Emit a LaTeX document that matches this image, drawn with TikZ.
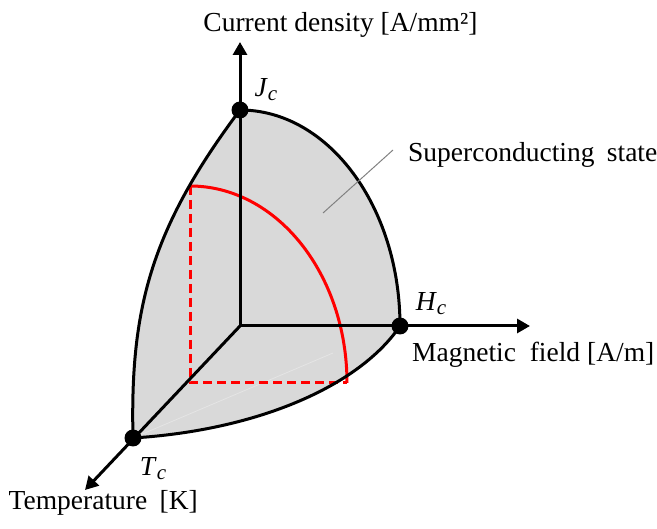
\documentclass[tikz,border=0pt]{standalone}
\usepackage{fontspec}
\setmainfont{Liberation Serif}
\usetikzlibrary{arrows.meta}
\newcommand\critlab[2]{\textit{#1}\raisebox{-4pt}{\fontsize{21}{24}\selectfont\textit{#2}}}
\begin{document}
\begin{tikzpicture}[x=1pt,y=-1pt,
  axisarrow/.style={line width=3pt, -{Triangle[length=13pt,width=14pt]}},
  edgeline/.style={line width=3pt},
  dotnode/.style={circle, fill=black, inner sep=0pt, minimum size=17pt},
  lbl/.style={font=\fontsize{27.5}{32}\selectfont, inner sep=0pt},
  redline/.style={red, line width=3pt},
  leader/.style={gray, line width=1pt}]
\useasboundingbox (0,0) rectangle (657,529);
% key points
\coordinate (O) at (240,326);
\coordinate (Jp) at (240,110);
\coordinate (Hp) at (400,326);
\coordinate (Tp) at (133,438);
\coordinate (topTip) at (240,42);
\coordinate (rightTip) at (530,326);
\coordinate (diagTip) at (85,490);
\coordinate (rTop) at (190,186);
\coordinate (rCorner) at (190,383);
\coordinate (rRight) at (347,383);
\coordinate (leadA) at (323,213);
\coordinate (leadB) at (393,150);
\coordinate (faintEnd) at (333,353);
% region
\fill[black!15] (Jp) arc[start angle=90, end angle=0, x radius=160, y radius=-216]
  .. controls (360,385) and (260,430) .. (Tp)
  .. controls (130,310) and (150,230) .. (Jp) -- cycle;
\draw[white!80!gray, line width=0.8pt] (Tp) -- (faintEnd);
% red curve
\draw[redline] (rTop) arc[start angle=90, end angle=0, x radius=157, y radius=-197];
\draw[redline, dash pattern=on 9pt off 5pt] (rTop) -- (rCorner) -- (rRight);
% axes
\draw[axisarrow] (O) -- (topTip);
\draw[axisarrow] (O) -- (rightTip);
\draw[axisarrow] (O) -- (diagTip);
% outline
\draw[edgeline] (Jp) arc[start angle=90, end angle=0, x radius=160, y radius=-216]
  .. controls (360,385) and (260,430) .. (Tp)
  .. controls (130,310) and (150,230) .. (Jp);
% leader
\draw[leader] (leadA) -- (leadB);
% dots
\node[dotnode] (J) at (Jp) {};
\node[dotnode] (H) at (Hp) {};
\node[dotnode] (T) at (Tp) {};
% labels
\node[lbl] (Jl) at (266,90) {\critlab{J}{c}};
\node[lbl] (Hl) at (431,304) {\critlab{H}{c}};
\node[lbl] (Tl) at (153,469) {\critlab{T}{c}};
\node[lbl, anchor=base] (cd) at (340.5,32) {Current density [A/mm²]};
\node[lbl, anchor=base west] (sc) at (408,162) {Superconducting\hspace{0.45em}state};
\node[lbl, anchor=base west] (mf) at (412,362) {Magnetic\hspace{0.5em}field [A/m]};
\node[lbl, anchor=base east] (tk) at (198,510) {Temperature\hspace{0.45em}[K]};
\end{tikzpicture}
\end{document}
